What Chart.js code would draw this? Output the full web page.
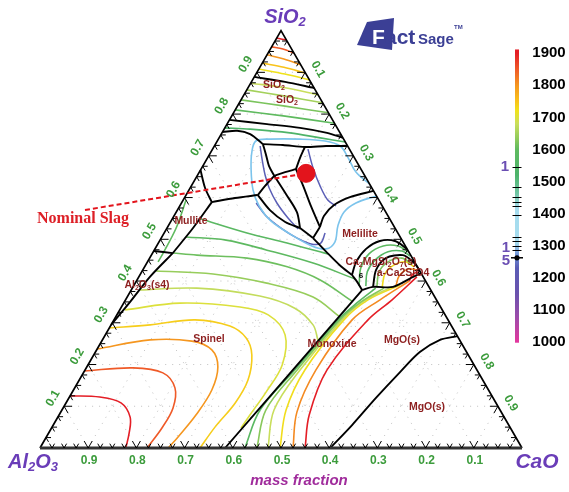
<!DOCTYPE html>
<html>
<head>
<meta charset="utf-8">
<script src="https://cdn.jsdelivr.net/npm/chart.js@4.4.1/dist/chart.umd.min.js"></script>
<style>
  html, body { margin: 0; padding: 0; background: #fff; }
  #wrap { width: 569px; height: 492px; }
</style>
</head>
<body>
<div id="wrap"><canvas id="c" width="569" height="492"></canvas></div>
<script>
// all compositions are [SiO2, CaO] mass fractions, Al2O3 = 1 - SiO2 - CaO

// isotherms in the SiO2 field (deg C in the name)
const silica1900 = [[0.982,0],[0.980,0.010],[0.9775,0.0225]];
const silica1850 = [[0.961,0],[0.956,0.026],[0.946,0.054]];
const silica1800 = [[0.942,0],[0.932,0.040],[0.918,0.082]];
const silica1750 = [[0.922,0],[0.912,0.050],[0.898,0.102]];
const silica1720 = [[0.908,0],[0.896,0.060],[0.882,0.118]];
const silica1680 = [[0.874,0],[0.863,0.077],[0.846,0.154]];
const silica1650 = [[0.858,0],[0.843,0.087],[0.827,0.173]];
const silica1620 = [[0.834,0],[0.819,0.099],[0.803,0.197]];
const silica1600 = [[0.810,0],[0.795,0.111],[0.778,0.222]];
const silica1550 = [[0.767,0],[0.764,0.054],[0.755,0.141],[0.743,0.210],[0.733,0.267]];

// isotherms in the spinel field
const spinel1900 = [[0.125,0],[0.122,0.063],[0.108,0.114],[0.074,0.150],[0.036,0.167],[0,0.178]];
const spinel1850 = [[0.1845,0],[0.192,0.097],[0.180,0.165],[0.144,0.208],[0.096,0.228],[0.048,0.229],[0,0.222]];
const spinel1800 = [[0.237,0],[0.259,0.099],[0.256,0.187],[0.235,0.239],[0.194,0.272],[0.139,0.287],[0.079,0.284],[0.026,0.273],[0,0.266]];
const spinel1750 = [[0.2875,0],[0.295,0.081],[0.307,0.168],[0.292,0.248],[0.2635,0.296],[0.223,0.328],[0.163,0.350],[0.108,0.351],[0.050,0.338],[0,0.332]];
const spinel1700 = [[0.331,0.011],[0.347,0.117],[0.338,0.246],[0.319,0.314],[0.271,0.373],[0.199,0.403],[0.134,0.402],[0.079,0.396],[0.048,0.393]];
const spinel1675 = [[0.3785,0.018],[0.383,0.134],[0.364,0.274],[0.335,0.361],[0.295,0.419],[0.259,0.447]];
const spinel1650 = [[0.424,0.029],[0.417,0.1505],[0.395,0.273],[0.362,0.3855],[0.316,0.462]];
const spinel1625 = [[0.467,0.042],[0.462,0.0945],[0.455,0.202],[0.434,0.296],[0.4025,0.380],[0.352,0.471]];
const spinel1600 = [[0.549,0.058],[0.515,0.172],[0.491,0.267],[0.470,0.346],[0.465,0.365]];
const spinel1575 = [[0.5055,0.050],[0.498,0.137],[0.474,0.234],[0.443,0.345],[0.405,0.451]];
const mullite1650 = [[0.594,0.006],[0.527,0.019],[0.467,0.022],[0.446,0.022]];

// isotherms in the monoxide field
const mono1580 = [[0,0.425],[0.091,0.411],[0.187,0.435],[0.307,0.465],[0.350,0.485],[0.383,0.505]];
const mono1630 = [[0,0.450],[0.091,0.423],[0.187,0.440],[0.307,0.469],[0.350,0.491],[0.383,0.522]];
const mono1680 = [[0,0.473],[0.091,0.440],[0.187,0.446],[0.307,0.473],[0.352,0.496],[0.386,0.537]];
const mono1720 = [[0,0.498],[0.091,0.465],[0.187,0.456],[0.307,0.477],[0.355,0.503],[0.3905,0.552]];
const mono1800 = [[0,0.525],[0.086,0.490],[0.187,0.479],[0.307,0.494],[0.355,0.528],[0.400,0.566]];
const mono1900 = [[0,0.550],[0.079,0.519],[0.187,0.502],[0.307,0.527],[0.355,0.553],[0.410,0.577]];

// Ca2MgSi2O7 and a-Ca2SiO4 fields
const aker1580 = [[0.388,0.468],[0.431,0.450],[0.465,0.450],[0.484,0.470],[0.484,0.501],[0.470,0.529]];
const aker1560 = [[0.388,0.482],[0.422,0.468],[0.450,0.470],[0.470,0.487],[0.472,0.515],[0.460,0.538]];
const c2s1620 = [[0.388,0.505],[0.422,0.4925],[0.446,0.499],[0.455,0.523],[0.441,0.551]];
const c2s1720 = [[0.386,0.517],[0.417,0.507],[0.438,0.515],[0.446,0.5365],[0.434,0.559]];
const c2s1800 = [[0.388,0.5445],[0.412,0.539],[0.429,0.549],[0.4265,0.569]];
const c2s1900 = [[0.400,0.566],[0.417,0.5655],[0.422,0.5755]];

// low temperature liquid isotherms
const liq1400 = [[0.6325,0.3675],[0.661,0.325],[0.697,0.290],[0.7235,0.261],[0.7355,0.2235],[0.740,0.169],[0.740,0.107],[0.7355,0.080],[0.709,0.085],[0.666,0.105],[0.618,0.133],[0.580,0.1645],[0.544,0.207],[0.513,0.262],[0.484,0.322],[0.477,0.355],[0.4935,0.365],[0.532,0.352],[0.565,0.348],[0.587,0.362],[0.604,0.396]];
const liq1300a = [[0.7235,0.095],[0.690,0.116],[0.654,0.140],[0.623,0.164],[0.587,0.198],[0.551,0.239],[0.525,0.273]];
const liq1300b = [[0.716,0.198],[0.671,0.231],[0.628,0.267],[0.594,0.300],[0.580,0.324]];
const liq1300c = [[0.587,0.155],[0.556,0.191],[0.527,0.2365],[0.503,0.282],[0.489,0.318],[0.491,0.337],[0.515,0.334]];

// phase boundaries
const bSilicaPoly = [[0.889,0],[0.877,0.070],[0.8625,0.1375]];
const bSilicaLiq = [[0.786,0],[0.776,0.083],[0.767,0.156],[0.755,0.218],[0.743,0.257]];
const bound = [
  [[0.757,0],[0.760,0.029],[0.752,0.060],[0.728,0.0985]],
  [[0.728,0.0985],[0.726,0.141],[0.721,0.189],[0.7235,0.232],[0.7235,0.2765]],
  [[0.728,0.0985],[0.702,0.118],[0.676,0.137],[0.652,0.160]],
  [[0.721,0.189],[0.695,0.192],[0.668,0.197]],
  [[0.652,0.160],[0.661,0.178],[0.668,0.197]],
  [[0.652,0.160],[0.628,0.153],[0.606,0.149]],
  [[0.589,0.062],[0.599,0.105],[0.606,0.149]],
  [[0.589,0.062],[0.623,0.031],[0.666,0]],
  [[0.589,0.062],[0.527,0.054],[0.467,0.042]],
  [[0.467,0.042],[0.472,0]],
  [[0.467,0.042],[0.410,0.023],[0.350,0.012],[0.295,0]],
  [[0.606,0.149],[0.570,0.192],[0.5415,0.238],[0.527,0.276]],
  [[0.652,0.160],[0.6085,0.206],[0.565,0.2505],[0.527,0.276]],
  [[0.668,0.197],[0.628,0.232],[0.580,0.272],[0.5295,0.316]],
  [[0.527,0.276],[0.503,0.315]],
  [[0.5295,0.316],[0.503,0.315]],
  [[0.5295,0.316],[0.556,0.311],[0.582,0.319],[0.601,0.3425],[0.616,0.384]],
  [[0.503,0.315],[0.470,0.359],[0.438,0.403],[0.4145,0.440]],
  [[0.4145,0.440],[0.398,0.459],[0.3785,0.479]],
  [[0.4145,0.440],[0.446,0.433],[0.477,0.438],[0.496,0.457],[0.496,0.4885],[0.477,0.523]],
  [[0.3785,0.479],[0.386,0.498],[0.386,0.5395],[0.410,0.569],[0.419,0.581]],
  [[0.386,0.498],[0.4265,0.484],[0.455,0.490],[0.462,0.522],[0.446,0.551],[0.431,0.569]]
];
const bMonoxide = [[0.3785,0.479],[0,0.384]];
const bMgO = [[0,0.602],[0.055,0.620],[0.120,0.637],[0.182,0.656],[0.230,0.673],[0.259,0.7005],[0.268,0.732]];

const nominalSlag = [0.658, 0.223];

// axis ticks and the temperature scale
const edgeTicks = [0.1,0.2,0.3,0.4,0.5,0.6,0.7,0.8,0.9];
const tempTicks = [1900,1800,1700,1600,1500,1400,1300,1200,1100,1000];
const tempMarks = [1546,1483,1452,1437,1423,1395,1328,1315,1299,1286];
const tempDot = 1262;

const colorStops = [[1913,'#e41e26'],[1900,'#e41e26'],[1850,'#ef5a28'],[1800,'#f5961f'],[1750,'#f9c31a'],[1720,'#efe21c'],[1680,'#c9de5c'],[1640,'#97cd5b'],[1600,'#5fba5f'],[1520,'#4cb36a'],[1460,'#72c6a6'],[1420,'#a6dcee'],[1310,'#a6dcee'],[1270,'#6e90d4'],[1230,'#5a5cb5'],[1150,'#6a52ad'],[1080,'#9a4cab'],[1000,'#e2379e'],[990,'#e2379e']];

function hexRgb(h) { return [1,3,5].map(i => parseInt(h.slice(i, i + 2), 16)); }
function tColor(T) {
  for (let i = 0; i < colorStops.length - 1; i++) {
    const [t0, c0] = colorStops[i], [t1, c1] = colorStops[i + 1];
    if (T <= t0 && T >= t1) {
      const f = (t0 - T) / (t0 - t1), a = hexRgb(c0), b = hexRgb(c1);
      return 'rgb(' + a.map((v, k) => Math.round(v + (b[k] - v) * f)).join(',') + ')';
    }
  }
  return colorStops[colorStops.length - 1][1];
}

const tern = p => ({ x: p[1] + p[0] / 2, y: p[0] });

function line(pts, color, width, order, tension) {
  return {
    data: pts.map(tern), showLine: true, borderColor: color, backgroundColor: color,
    borderWidth: width, pointRadius: 0, pointHoverRadius: 0,
    tension: tension === undefined ? 0.35 : tension, order: order, fill: false
  };
}

const isotherms = [
  [silica1900,1900],[silica1850,1850],[silica1800,1800],[silica1750,1750],[silica1720,1720],
  [silica1680,1680],[silica1650,1650],[silica1620,1620],[silica1600,1600],[silica1550,1530],
  [spinel1900,1900],[spinel1850,1850],[spinel1800,1800],[spinel1750,1740],[spinel1700,1700],
  [spinel1675,1675],[spinel1650,1640],[spinel1625,1610],[spinel1600,1580],[spinel1575,1590],
  [mullite1650,1600],
  [mono1580,1580],[mono1630,1630],[mono1680,1680],[mono1720,1725],[mono1800,1810],[mono1900,1900],
  [aker1580,1590],[aker1560,1560],[c2s1620,1620],[c2s1720,1725],[c2s1800,1810],[c2s1900,1900]
];

const datasets = [];
isotherms.forEach(([pts, T]) => datasets.push(line(pts, tColor(T), 1.6, 5)));
datasets.push(line(liq1400, '#7cc4ec', 1.6, 5));
[liq1300a, liq1300b, liq1300c].forEach(p => datasets.push(line(p, '#5b5fb6', 1.5, 5)));
[bSilicaPoly, bSilicaLiq, bMonoxide, bMgO].concat(bound).forEach(p => datasets.push(line(p, '#000', 1.9, 3, 0.3)));
datasets.push(line([[0,0],[1,0],[0,1]], '#000', 1.7, 2, 0));
datasets.push(line([[0,0],[0,1]], '#333', 3, 1, 0));
datasets.push({
  label: 'slag', data: [tern(nominalSlag)], showLine: false, pointRadius: 9,
  pointHoverRadius: 9, backgroundColor: '#e3141c', borderColor: '#e3141c', order: 0
});

const FONT = '"Liberation Sans", Arial, sans-serif';

function rich(ctx, str, x, y, size, weight, color) {
  const parts = str.split(/(_\d)/).filter(Boolean)
    .map(p => p[0] === '_' ? { t: p.slice(1), sub: true } : { t: p, sub: false });
  const fnt = sub => weight + ' ' + (sub ? Math.round(size * 0.66) : size) + 'px ' + FONT;
  let w = 0;
  parts.forEach(p => { ctx.font = fnt(p.sub); p.w = ctx.measureText(p.t).width; w += p.w; });
  let cx = x - w / 2;
  ctx.fillStyle = color; ctx.textBaseline = 'middle'; ctx.textAlign = 'left';
  parts.forEach(p => { ctx.font = fnt(p.sub); ctx.fillText(p.t, cx, p.sub ? y + size * 0.28 : y); cx += p.w; });
}

function pix(chart, p) {
  const q = tern(p);
  return { x: chart.scales.x.getPixelForValue(q.x), y: chart.scales.y.getPixelForValue(q.y) };
}

const decor = {
  id: 'decor',
  beforeDatasetsDraw(chart) {
    const ctx = chart.ctx;
    ctx.save();
    ctx.strokeStyle = 'rgba(150,150,150,0.6)';
    ctx.lineWidth = 1;
    ctx.setLineDash([1, 6]);
    const seg = (a, b) => { const p = pix(chart, a), q = pix(chart, b); ctx.beginPath(); ctx.moveTo(p.x, p.y); ctx.lineTo(q.x, q.y); ctx.stroke(); };
    edgeTicks.forEach(v => { seg([v, 0], [v, 1 - v]); seg([0, v], [1 - v, v]); seg([0, 1 - v], [1 - v, 0]); });
    ctx.restore();
  },
  beforeDatasetDraw(chart, args) {
    if (chart.data.datasets[args.index].label !== 'slag') return;
    const ctx = chart.ctx, p = pix(chart, nominalSlag);
    ctx.save();
    ctx.strokeStyle = '#e3141c'; ctx.lineWidth = 2; ctx.setLineDash([5, 3]);
    ctx.beginPath(); ctx.moveTo(85, 210); ctx.lineTo(p.x, p.y); ctx.stroke();
    ctx.restore();
  },
  afterDatasetsDraw(chart) {
    const ctx = chart.ctx;
    ctx.save();
    // edge ticks
    ctx.strokeStyle = '#000'; ctx.lineWidth = 1;
    const s3 = Math.sqrt(3) / 2;
    const arms = { bottom: [[0.5, -s3], [-0.5, -s3]], left: [[1, 0], [0.5, s3]], right: [[-1, 0], [-0.5, s3]] };
    for (let i = 1; i < 40; i++) {
      const v = i / 40, len = i % 4 === 0 ? 8 : 5;
      [['bottom', [0, v]], ['left', [v, 0]], ['right', [1 - v, v]]].forEach(([side, comp]) => {
        const p = pix(chart, comp);
        arms[side].forEach(([dx, dy]) => { ctx.beginPath(); ctx.moveTo(p.x, p.y); ctx.lineTo(p.x + dx * len, p.y + dy * len); ctx.stroke(); });
      });
    }
    // edge tick labels
    ctx.fillStyle = '#3c9c3c'; ctx.font = 'bold 12px ' + FONT;
    ctx.textAlign = 'center'; ctx.textBaseline = 'middle';
    edgeTicks.forEach(v => {
      const lbl = v.toFixed(1);
      const pb = pix(chart, [0, 1 - v]);
      ctx.fillText(lbl, pb.x + 1, 461);
      const pl = pix(chart, [v, 0]);
      ctx.save(); ctx.translate(pl.x - 11, pl.y - 8); ctx.rotate(-Math.PI / 3); ctx.fillText(lbl, 0, 0); ctx.restore();
      const pr = pix(chart, [1 - v, v]);
      ctx.save(); ctx.translate(pr.x + 13, pr.y - 3); ctx.rotate(Math.PI / 3); ctx.fillText(lbl, 0, 0); ctx.restore();
    });
    // component names
    rich(ctx, 'SiO_2', 285, 17, 20, 'italic bold', '#6a3db8');
    rich(ctx, 'Al_2O_3', 33, 462, 20, 'italic bold', '#6a3db8');
    rich(ctx, 'CaO', 537, 462, 21, 'italic bold', '#6a3db8');
    rich(ctx, 'mass fraction', 299, 481, 15, 'italic bold', '#a02c9c');
    // phase field names
    const red = '#8d1f1f';
    [['SiO_2', 274, 85], ['SiO_2', 287, 100], ['Mullite', 191, 221], ['Melilite', 360, 234],
     ['Al_2O_3(s4)', 147, 285], ['Spinel', 209, 339], ['Monoxide', 332, 344], ['MgO(s)', 402, 340],
     ['MgO(s)', 427, 407], ['Ca_2MgSi_2O_7(s)', 381, 262], ['a-Ca2SiO4', 403, 273]]
      .forEach(([t, x, y]) => rich(ctx, t, x, y, 10.5, 'bold', red));
    rich(ctx, '6', 361, 276, 8, 'bold', '#000');
    // nominal slag label
    ctx.fillStyle = '#dd1f26'; ctx.font = 'bold 16px "Liberation Serif", "Times New Roman", serif';
    ctx.textAlign = 'left'; ctx.textBaseline = 'middle';
    ctx.fillText('Nominal Slag', 37, 219);
    // temperature scale
    const yT = T => 53.3 + (1900 - T) * 0.3205;
    const top = yT(1913), bot = yT(990);
    const g = ctx.createLinearGradient(0, top, 0, bot);
    colorStops.forEach(([T, c]) => g.addColorStop(Math.min(1, Math.max(0, (yT(T) - top) / (bot - top))), c));
    ctx.fillStyle = g; ctx.fillRect(515, yT(1912), 4, yT(997) - yT(1912));
    ctx.strokeStyle = '#000'; ctx.lineWidth = 1;
    tempMarks.forEach(T => { const y = Math.round(yT(T)) + 0.5; ctx.beginPath(); ctx.moveTo(512.5, y); ctx.lineTo(521.5, y); ctx.stroke(); });
    ctx.fillStyle = '#000';
    ctx.beginPath(); ctx.arc(517, yT(tempDot), 2.6, 0, Math.PI * 2); ctx.fill();
    ctx.beginPath(); ctx.moveTo(511, yT(tempDot)); ctx.lineTo(523, yT(tempDot)); ctx.lineWidth = 1.5; ctx.stroke();
    ctx.font = 'bold 15px ' + FONT; ctx.textAlign = 'center'; ctx.textBaseline = 'middle';
    tempTicks.forEach(T => ctx.fillText(String(T), 549, yT(T)));
    ctx.fillStyle = '#6b4fb3';
    ctx.fillText('1', 505, 167); ctx.fillText('1', 506, 248); ctx.fillText('5', 506, 261);
    // FactSage logo
    ctx.fillStyle = '#3b3f95';
    ctx.beginPath(); ctx.moveTo(367, 22); ctx.lineTo(394, 18); ctx.lineTo(392, 50); ctx.lineTo(357, 45); ctx.closePath(); ctx.fill();
    ctx.textAlign = 'left'; ctx.textBaseline = 'alphabetic';
    ctx.font = 'bold 21px ' + FONT;
    ctx.lineWidth = 2; ctx.strokeStyle = '#3b3f95';
    ctx.strokeText('F', 372, 44); ctx.fillStyle = '#fff'; ctx.fillText('F', 372, 44);
    ctx.fillStyle = '#3b3f95'; ctx.fillText('act', 385, 44);
    ctx.font = 'bold 15px ' + FONT; ctx.fillText('Sage', 418, 44);
    ctx.font = 'bold 6px ' + FONT; ctx.fillText('TM', 454, 29);
    ctx.restore();
  }
};

new Chart(document.getElementById('c'), {
  type: 'scatter',
  data: { datasets },
  options: {
    responsive: false,
    animation: false,
    events: [],
    layout: { padding: 0, autoPadding: false },
    plugins: { legend: { display: false }, tooltip: { enabled: false } },
    scales: {
      x: { type: 'linear', display: false, min: -0.08299, max: 1.09751 },
      y: { type: 'linear', display: false, min: -0.10541, max: 1.07331 }
    }
  },
  plugins: [decor]
});
</script>
</body>
</html>
